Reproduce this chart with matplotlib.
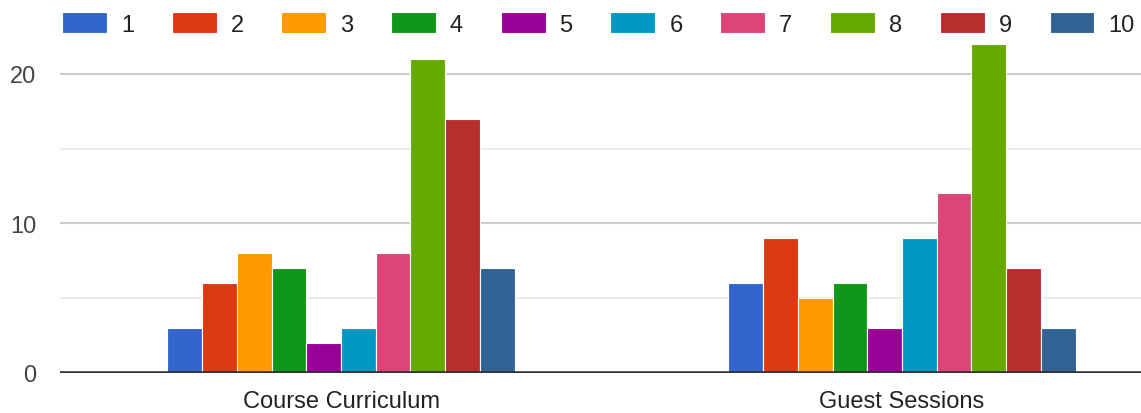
import numpy as np
import matplotlib.pyplot as plt

plt.rcParams['font.family'] = ['Liberation Sans', 'DejaVu Sans']

# data
categories = ['Course Curriculum', 'Guest Sessions']
series = ['1', '2', '3', '4', '5', '6', '7', '8', '9', '10']
course_vals = [3, 6, 8, 7, 2, 3, 8, 21, 17, 7]
guest_vals = [6, 9, 5, 6, 3, 9, 12, 22, 7, 3]
colors = ['#3366cc', '#dc3912', '#ff9900', '#109618', '#990099',
          '#0099c6', '#dd4477', '#66aa00', '#b82e2e', '#316395']

W, H = 1141, 414
fig = plt.figure(figsize=(W/100, H/100), dpi=100)
ax = fig.add_axes([60/W, 40/H, 1 - 60/W, 374/H])

x = np.arange(len(categories))
bw = 0.0619
handles = []
for i, name in enumerate(series):
    vals = [course_vals[i], guest_vals[i]]
    b = ax.bar(x + (i - 4.5)*bw, vals, bw, color=colors[i], edgecolor='white',
               linewidth=0.8, label=name, zorder=3)
    handles.append(b)

ax.set_xlim(-0.501, 1.426)
ax.set_ylim(0, 25)

# gridlines: majors darker, minors lighter
ax.set_yticks([0, 10, 20])
ax.set_yticks([5, 15, 25], minor=True)
ax.grid(axis='y', which='major', color='#cccccc', linewidth=1.5, zorder=0)
ax.grid(axis='y', which='minor', color='#ebebeb', linewidth=1.5, zorder=0)
ax.axhline(0, color='#333333', linewidth=2.6, zorder=5)

ax.set_xticks(x)
ax.set_xticklabels(categories)
ax.tick_params(axis='x', length=0, pad=12, labelsize=17, labelcolor='#222222')
ax.tick_params(axis='y', which='both', length=0, pad=17, labelsize=17, labelcolor='#444444')
for s in ax.spines.values():
    s.set_visible(False)

leg = ax.legend(handles=handles, ncol=10, loc='upper left',
                bbox_to_anchor=(62/W, 1 - 13/H), bbox_transform=fig.transFigure,
                frameon=False, fontsize=17, handlelength=1.9, handleheight=0.98,
                handletextpad=0.59, columnspacing=1.6, borderpad=0, borderaxespad=0)
for t in leg.get_texts():
    t.set_color('#222222')

fig.savefig('out.png', dpi=100)
